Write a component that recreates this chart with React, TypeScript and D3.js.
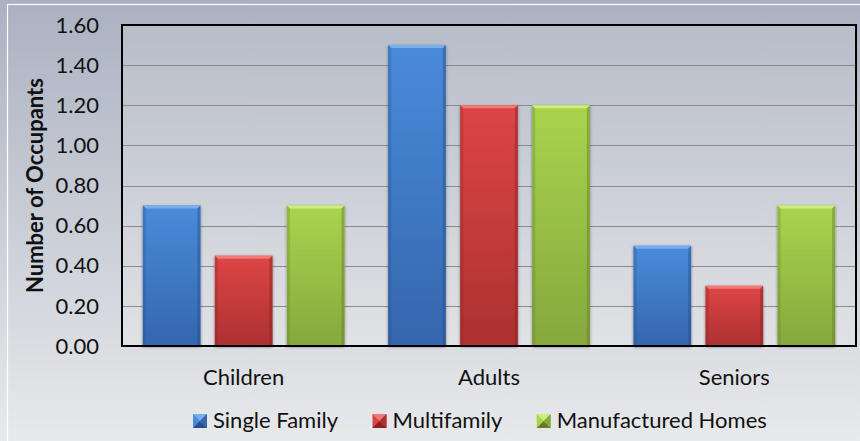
import React from "react";
import * as d3 from "d3";

const categories = ["Children", "Adults", "Seniors"];
const seriesNames = ["Single Family", "Multifamily", "Manufactured Homes"];
const singleFamily = [0.7, 1.5, 0.5];
const multifamily = [0.45, 1.2, 0.3];
const manufactured = [0.7, 1.2, 0.7];
const yTicks = [0, 0.2, 0.4, 0.6, 0.8, 1.0, 1.2, 1.4, 1.6];
const yTitle = "Number of Occupants";

const W = 860;
const H = 441;
const FONT = "Lato";
const FS = 22;

const palette = [
  { top: "#4a8bda", bottom: "#3466ad", light: "#78aeec", dark: "#24508e" },
  { top: "#dd4545", bottom: "#ad3131", light: "#f07a7a", dark: "#8a2222" },
  { top: "#a9d44e", bottom: "#86a83d", light: "#cdef7a", dark: "#617d27" },
];

export default function App() {
  const seriesValues = [singleFamily, multifamily, manufactured];
  const y = d3.scaleLinear().domain([0, 1.6]).range([346, 25]);
  const x0 = d3.scaleBand<string>().domain(categories).range([121, 857]).paddingInner(0.178).paddingOuter(0.089);
  const x1 = d3.scaleBand<string>().domain(seriesNames).range([0, x0.bandwidth()]).paddingInner(0.2);
  const cy = (y(0) + y(1.6)) / 2;

  return (
    <div style={{ position: "absolute", left: 0, top: 0 }}>
      <svg width={W} height={H} style={{ display: "block" }}>
        <defs>
          <linearGradient id="bg" x1="0" y1="0" x2="0" y2="1">
            <stop offset="0" stopColor="#aab1c1" />
            <stop offset="1" stopColor="#e8e9eb" />
          </linearGradient>
          <linearGradient id="plotbg" x1="0" y1="0" x2="0" y2="1">
            <stop offset="0" stopColor="#b7bdc9" />
            <stop offset="1" stopColor="#e1e2e5" />
          </linearGradient>
          {palette.map((p, i) => (
            <linearGradient key={i} id={`bar${i}`} x1="0" y1="0" x2="0" y2="1">
              <stop offset="0" stopColor={p.top} />
              <stop offset="1" stopColor={p.bottom} />
            </linearGradient>
          ))}
          <filter id="shadow" x="-20%" y="-10%" width="140%" height="120%">
            <feDropShadow dx="0" dy="1" stdDeviation="1.6" floodColor="#000" floodOpacity="0.45" />
          </filter>
        </defs>
        <rect x={0} y={0} width={W} height={H} fill="url(#bg)" />
        <rect x={7.5} y={4.5} width={W + 20} height={H + 20} fill="none" stroke="#ffffff" strokeWidth={1.2} />
        <rect x={122} y={25} width={856 - 122} height={346 - 25} fill="url(#plotbg)" />
        {yTicks.slice(1, -1).map((t) => (
          <line key={t} x1={122} x2={856} y1={Math.round(y(t)) + 0.5} y2={Math.round(y(t)) + 0.5} stroke="#8a8b8e" strokeWidth={1} />
        ))}
        {categories.map((c, ci) => (
          <g key={c} transform={`translate(${x0(c)},0)`}>
            {seriesNames.map((s, si) => {
              const v = seriesValues[si][ci];
              const bx = x1(s)!;
              const bw = x1.bandwidth();
              const by = y(v);
              const bh = y(0) - by;
              const p = palette[si];
              const e = 3;
              return (
                <g key={s}>
                  <rect x={bx} y={by} width={bw} height={bh} fill={`url(#bar${si})`} filter="url(#shadow)" />
                  <polygon points={`${bx},${by} ${bx + bw},${by} ${bx + bw - e},${by + e} ${bx + e},${by + e}`} fill={p.light} />
                  <polygon points={`${bx},${by} ${bx + e},${by + e} ${bx + e},${by + bh} ${bx},${by + bh}`} fill={p.dark} opacity={0.3} />
                  <polygon points={`${bx + bw},${by} ${bx + bw - e},${by + e} ${bx + bw - e},${by + bh} ${bx + bw},${by + bh}`} fill={p.dark} opacity={0.45} />
                </g>
              );
            })}
          </g>
        ))}
        <rect x={122} y={25} width={856 - 122} height={346 - 25} fill="none" stroke="#000" strokeWidth={2} />
        {yTicks.map((t) => (
          <text key={t} x={99} y={y(t)} dy="0.35em" textAnchor="end" fontFamily={FONT} fontSize={FS} fill="#111">
            {d3.format(".2f")(t)}
          </text>
        ))}
        <text transform={`translate(43,${cy}) rotate(-90)`} textAnchor="middle" fontFamily={FONT} fontWeight="bold" fontSize={FS} fill="#111">
          {yTitle}
        </text>
        {categories.map((c) => (
          <text key={c} x={x0(c)! + x0.bandwidth() / 2} y={385} textAnchor="middle" fontFamily={FONT} fontSize={FS} fill="#111">
            {c}
          </text>
        ))}
        {seriesNames.map((s, i) => {
          const lx = [193, 372.5, 536.7][i];
          const p = palette[i];
          const sz = 14;
          const sy = 414;
          return (
            <g key={s}>
              <rect x={lx} y={sy} width={sz} height={sz} fill={p.top} />
              <polygon points={`${lx},${sy} ${lx + sz},${sy} ${lx + sz / 2},${sy + sz / 2}`} fill={p.light} />
              <polygon points={`${lx},${sy + sz} ${lx + sz},${sy + sz} ${lx + sz / 2},${sy + sz / 2}`} fill={p.dark} />
              <polygon points={`${lx + sz},${sy} ${lx + sz},${sy + sz} ${lx + sz / 2},${sy + sz / 2}`} fill={p.bottom} />
              <text x={lx + 20} y={428.3} fontFamily={FONT} fontSize={FS} fill="#111">
                {s}
              </text>
            </g>
          );
        })}
      </svg>
    </div>
  );
}
